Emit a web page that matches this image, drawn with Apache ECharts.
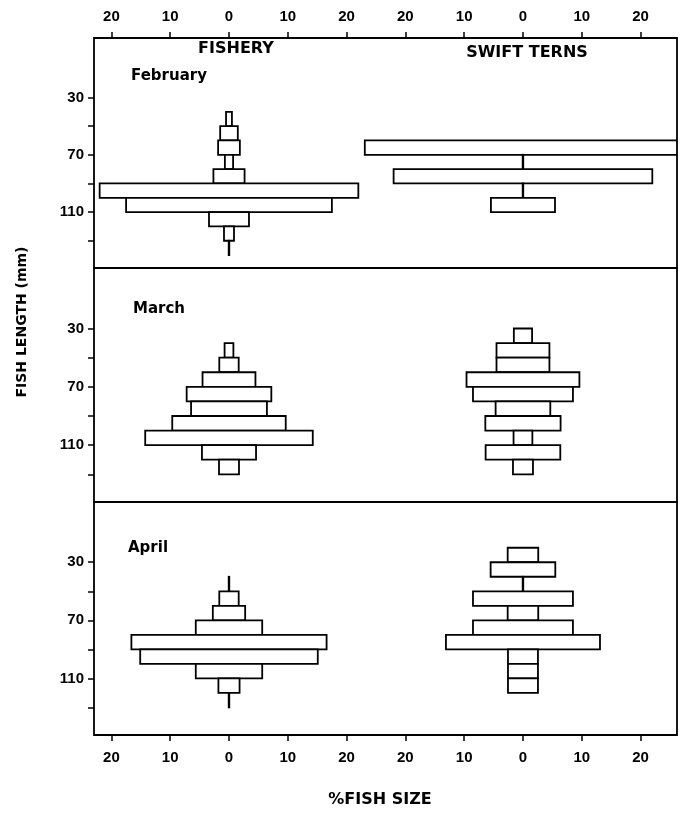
<!DOCTYPE html>
<html>
<head>
<meta charset="utf-8">
<script src="https://cdn.jsdelivr.net/npm/echarts@6/dist/echarts.min.js"></script>
<style>
  html, body { margin: 0; padding: 0; background: #fff; }
  #chart { width: 682px; height: 813px; }
</style>
</head>
<body>
<div id="chart"></div>
<script>
// Length classes (mm, start of each 10 mm class)
const BINS = [20, 30, 40, 50, 60, 70, 80, 90, 100, 110, 120, 130];
// % of fish in each length class (total bar width), null = no fish
const febFishery = [null, null, 1.0, 3.0, 3.7, 1.4, 5.3, 44.0, 35.0, 6.8, 1.7, 0.1];
const febTerns   = [null, null, null, null, 53.8, 0.1, 44.0, 0.1, 10.9, null, null, null];
const marFishery = [null, null, 1.5, 3.3, 9.0, 14.4, 12.9, 19.3, 28.5, 9.2, 3.4, null];
const marTerns   = [null, 3.1, 9.0, 9.0, 19.2, 17.0, 9.3, 12.8, 3.2, 12.7, 3.4, null];
const aprFishery = [null, null, 0.1, 3.3, 5.5, 11.3, 33.2, 30.2, 11.3, 3.6, 0.1, null];
const aprTerns   = [5.2, 11.0, 0.1, 17.0, 5.2, 17.0, 26.2, 5.1, 5.1, 5.1, null, null];

const months = ['February', 'March', 'April'];
const panelTitles = ['FISHERY', 'SWIFT TERNS'];
const xTickValues = [-20, -10, 0, 10, 20, 30, 40, 50, 60, 70];
const yTickValues = [30, 50, 70, 90, 110, 130];
const yLabelValues = [30, 70, 110];

const CLASS_WIDTH = 10;
const FISHERY_CENTER = 0;
const TERNS_CENTER = 50;

const panels = [
  [febFishery, febTerns],
  [marFishery, marTerns],
  [aprFishery, aprTerns]
];

const FONT = 'Liberation Sans';
const TFONT = 'DejaVu Sans';

const gridTops = [38, 268, 502];
const gridHeights = [230, 234, 233];

const grids = gridTops.map((t, i) => ({
  left: 94, right: 5, top: t, height: gridHeights[i],
  show: true, borderColor: '#000', borderWidth: 1.8, backgroundColor: 'transparent'
}));

function xFmt(v) {
  return String(Math.abs(v <= 25 ? v : v - TERNS_CENTER));
}

const xAxes = grids.map((g, i) => ({
  type: 'value', gridIndex: i, min: -22.96, max: 76.2,
  position: i === 0 ? 'top' : 'bottom',
  show: i !== 1,
  splitLine: { show: false },
  axisLine: { show: false, onZero: false },
  axisTick: { show: true, inside: false, length: 6, customValues: xTickValues,
              lineStyle: { color: '#000', width: 1.5 } },
  axisLabel: { show: true, customValues: xTickValues, formatter: xFmt, margin: i === 0 ? 14 : 15,
               color: '#000', fontFamily: FONT, fontWeight: 'bold', fontSize: 15 }
}));

const yAxes = grids.map((g, i) => ({
  type: 'value', gridIndex: i, min: -11.5, max: 149, inverse: true,
  position: 'left',
  splitLine: { show: false },
  axisLine: { show: false, onZero: false },
  axisTick: { show: true, inside: false, length: 6, customValues: yTickValues,
              lineStyle: { color: '#000', width: 1.5 } },
  axisLabel: { show: true, customValues: yLabelValues, margin: 10,
               color: '#000', fontFamily: FONT, fontWeight: 'bold', fontSize: 15 }
}));

function makeSeries(values, center, gi) {
  const data = [];
  BINS.forEach((b, k) => { if (values[k] != null) data.push([b, values[k]]); });
  return {
    type: 'custom', xAxisIndex: gi, yAxisIndex: gi, clip: true,
    data: data,
    renderItem: function (params, api) {
      const start = api.value(0), pct = api.value(1);
      const p1 = api.coord([center - pct / 2, start]);
      const p2 = api.coord([center + pct / 2, start + CLASS_WIDTH]);
      const shape = echarts.graphic.clipRectByRect({
        x: Math.min(p1[0], p2[0]), y: Math.min(p1[1], p2[1]),
        width: Math.abs(p2[0] - p1[0]), height: Math.abs(p2[1] - p1[1])
      }, {
        x: params.coordSys.x, y: params.coordSys.y,
        width: params.coordSys.width, height: params.coordSys.height
      });
      if (!shape) return null;
      return {
        type: 'rect', shape: shape,
        style: { fill: '#fff', stroke: '#000', lineWidth: 1.8 }
      };
    }
  };
}

const series = [];
panels.forEach((p, gi) => {
  series.push(makeSeries(p[0], FISHERY_CENTER, gi));
  series.push(makeSeries(p[1], TERNS_CENTER, gi));
});

const monthPos = [[131, 78], [133, 311], [128, 550]];
const graphic = [];
months.forEach((m, i) => {
  graphic.push({ type: 'text', left: monthPos[i][0], top: monthPos[i][1] - 9,
    style: { text: m, fill: '#000', font: 'bold 15px "' + TFONT + '"' }, z: 10 });
});
graphic.push({ type: 'text', x: 236, y: 49,
  style: { text: panelTitles[0], fill: '#000', font: 'bold 16px "' + TFONT + '"',
           align: 'center', verticalAlign: 'middle' }, z: 10 });
graphic.push({ type: 'text', x: 527, y: 53,
  style: { text: panelTitles[1], fill: '#000', font: 'bold 16px "' + TFONT + '"',
           align: 'center', verticalAlign: 'middle' }, z: 10 });
graphic.push({ type: 'text', x: 22, y: 322, rotation: Math.PI / 2,
  style: { text: 'FISH LENGTH (mm)', fill: '#000', font: 'bold 14px "' + TFONT + '"',
           align: 'center', verticalAlign: 'middle' }, z: 10 });
graphic.push({ type: 'text', x: 380, y: 800,
  style: { text: '%FISH SIZE', fill: '#000', font: 'bold 16px "' + TFONT + '"',
           align: 'center', verticalAlign: 'middle' }, z: 10 });

const chart = echarts.init(document.getElementById('chart'), null, { renderer: 'canvas' });
chart.setOption({
  backgroundColor: '#fff',
  animation: false,
  grid: grids,
  xAxis: xAxes,
  yAxis: yAxes,
  series: series,
  graphic: graphic
});
</script>
</body>
</html>
